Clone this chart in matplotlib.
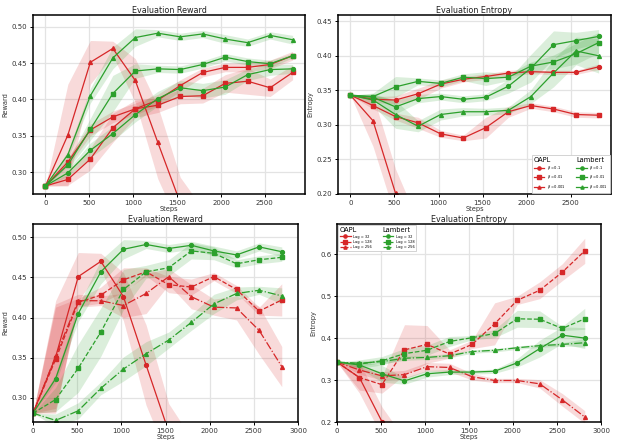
import matplotlib
matplotlib.use('Agg')
import matplotlib.pyplot as plt
import numpy as np
from matplotlib.lines import Line2D

steps = [0, 256, 512, 768, 1024, 1280, 1536, 1792, 2048, 2304, 2560, 2816]

# --- top left: reward vs beta
rew_oapl_b01 = [0.281, 0.314, 0.358, 0.376, 0.387, 0.399, 0.419, 0.437, 0.444, 0.444, 0.448, 0.460]
rew_oapl_b01_sd = [0, 0.006, 0.008, 0.008, 0.008, 0.008, 0.008, 0.006, 0.006, 0.006, 0.006, 0.006]
rew_oapl_b001 = [0.281, 0.290, 0.318, 0.361, 0.387, 0.392, 0.404, 0.405, 0.422, 0.425, 0.416, 0.437]
rew_oapl_b001_sd = [0, 0.008, 0.015, 0.02, 0.012, 0.01, 0.01, 0.01, 0.012, 0.018, 0.012, 0.01]
rew_oapl_b0001 = [0.281, 0.351, 0.451, 0.470, 0.426, 0.341, 0.258, 0.22, 0.20, 0.20, 0.20, 0.20]
rew_oapl_b0001_sd = [0, 0.07, 0.03, 0.01, 0.03, 0.05, 0.035, 0.03, 0.03, 0.03, 0.03, 0.03]
rew_lam_b01 = [0.281, 0.299, 0.330, 0.353, 0.379, 0.401, 0.416, 0.412, 0.417, 0.434, 0.441, 0.442]
rew_lam_b01_sd = [0, 0.005, 0.01, 0.01, 0.01, 0.01, 0.01, 0.01, 0.01, 0.008, 0.008, 0.006]
rew_lam_b001 = [0.281, 0.310, 0.359, 0.408, 0.439, 0.442, 0.441, 0.448, 0.458, 0.452, 0.449, 0.460]
rew_lam_b001_sd = [0, 0.006, 0.015, 0.025, 0.01, 0.005, 0.005, 0.005, 0.005, 0.005, 0.005, 0.003]
rew_lam_b0001 = [0.281, 0.324, 0.405, 0.457, 0.485, 0.491, 0.486, 0.490, 0.483, 0.478, 0.488, 0.482]
rew_lam_b0001_sd = [0, 0.005, 0.01, 0.015, 0.012, 0.005, 0.005, 0.005, 0.006, 0.005, 0.005, 0.006]

# --- top right: entropy vs beta
ent_oapl_b01 = [0.343, 0.337, 0.336, 0.345, 0.359, 0.366, 0.370, 0.375, 0.377, 0.376, 0.376, 0.384]
ent_oapl_b01_sd = [0, 0.004, 0.006, 0.008, 0.006, 0.004, 0.004, 0.004, 0.003, 0.003, 0.003, 0.004]
ent_oapl_b001 = [0.343, 0.328, 0.312, 0.303, 0.287, 0.281, 0.296, 0.319, 0.328, 0.323, 0.315, 0.314]
ent_oapl_b001_sd = [0, 0.005, 0.005, 0.008, 0.005, 0.004, 0.015, 0.008, 0.004, 0.004, 0.004, 0.004]
ent_oapl_b0001 = [0.343, 0.306, 0.201, 0.12, 0.08, 0.06, 0.05, 0.05, 0.05, 0.05, 0.05, 0.05]
ent_oapl_b0001_sd = [0, 0.037, 0.035, 0.04, 0.03, 0.03, 0.03, 0.03, 0.03, 0.03, 0.03, 0.03]
ent_lam_b01 = [0.343, 0.340, 0.326, 0.338, 0.341, 0.337, 0.340, 0.356, 0.382, 0.416, 0.422, 0.428]
ent_lam_b01_sd = [0, 0.005, 0.01, 0.006, 0.005, 0.005, 0.005, 0.01, 0.02, 0.02, 0.012, 0.01]
ent_lam_b001 = [0.343, 0.341, 0.355, 0.363, 0.360, 0.369, 0.367, 0.369, 0.385, 0.391, 0.403, 0.419]
ent_lam_b001_sd = [0, 0.005, 0.015, 0.005, 0.005, 0.005, 0.01, 0.005, 0.006, 0.01, 0.015, 0.015]
ent_lam_b0001 = [0.343, 0.336, 0.315, 0.298, 0.315, 0.319, 0.319, 0.321, 0.341, 0.375, 0.407, 0.400]
ent_lam_b0001_sd = [0, 0.008, 0.02, 0.008, 0.008, 0.006, 0.005, 0.005, 0.01, 0.02, 0.02, 0.025]

# --- bottom left: reward vs lag (lag 32 = beta 0.001 run)
rew_oapl_lag128 = [0.281, 0.348, 0.419, 0.428, 0.447, 0.457, 0.441, 0.438, 0.451, 0.435, 0.408, 0.422]
rew_oapl_lag128_sd = [0, 0.065, 0.005, 0.01, 0.015, 0.005, 0.01, 0.01, 0.005, 0.005, 0.005, 0.02]
rew_oapl_lag256 = [0.281, 0.352, 0.421, 0.421, 0.415, 0.430, 0.451, 0.426, 0.413, 0.412, 0.384, 0.339]
rew_oapl_lag256_sd = [0, 0.065, 0.008, 0.006, 0.015, 0.025, 0.01, 0.015, 0.01, 0.015, 0.03, 0.025]
rew_lam_lag128 = [0.281, 0.298, 0.337, 0.382, 0.435, 0.457, 0.462, 0.483, 0.480, 0.467, 0.472, 0.475]
rew_lam_lag128_sd = [0, 0.015, 0.03, 0.03, 0.025, 0.008, 0.01, 0.01, 0.008, 0.005, 0.005, 0.005]
rew_lam_lag256 = [0.281, 0.272, 0.284, 0.312, 0.336, 0.355, 0.372, 0.394, 0.417, 0.430, 0.434, 0.427]
rew_lam_lag256_sd = [0, 0.008, 0.01, 0.008, 0.015, 0.015, 0.01, 0.01, 0.012, 0.008, 0.005, 0.01]

# --- bottom right: entropy vs lag
ent_oapl_lag128 = [0.343, 0.306, 0.289, 0.372, 0.385, 0.362, 0.385, 0.434, 0.490, 0.514, 0.557, 0.608]
ent_oapl_lag128_sd = [0, 0.03, 0.02, 0.06, 0.045, 0.01, 0.01, 0.05, 0.01, 0.02, 0.02, 0.03]
ent_oapl_lag256 = [0.343, 0.324, 0.310, 0.313, 0.332, 0.330, 0.308, 0.299, 0.299, 0.291, 0.253, 0.212]
ent_oapl_lag256_sd = [0, 0.01, 0.01, 0.01, 0.01, 0.01, 0.008, 0.005, 0.005, 0.01, 0.015, 0.015]
ent_lam_lag128 = [0.343, 0.338, 0.346, 0.363, 0.371, 0.392, 0.401, 0.411, 0.446, 0.445, 0.423, 0.446]
ent_lam_lag128_sd = [0, 0.01, 0.01, 0.012, 0.012, 0.012, 0.005, 0.01, 0.02, 0.02, 0.005, 0.025]
ent_lam_lag256 = [0.343, 0.340, 0.344, 0.352, 0.354, 0.358, 0.368, 0.371, 0.377, 0.382, 0.385, 0.389]
ent_lam_lag256_sd = [0, 0.005, 0.005, 0.005, 0.005, 0.005, 0.004, 0.004, 0.004, 0.004, 0.004, 0.01]

beta_labels = [r'$\beta=0.1$', r'$\beta=0.01$', r'$\beta=0.001$']
lag_labels = ['Lag = 32', 'Lag = 128', 'Lag = 256']

RED = '#d62728'
GREEN = '#2ca02c'

x = np.array(steps)


def curve(ax, y, sd, color, marker, ls='-'):
    y = np.array(y)
    sd = np.array(sd)
    ax.fill_between(x, y - sd, y + sd, color=color, alpha=0.17, lw=0)
    ax.plot(x, y, color=color, marker=marker, ls=ls, lw=0.9, ms=2.8)


def style(ax, title, ylabel):
    ax.set_title(title, fontsize=5.8, pad=1.5, color='#222222')
    ax.set_xlabel('Steps', fontsize=4.8, labelpad=0.5, color='#333333')
    ax.set_ylabel(ylabel, fontsize=4.8, labelpad=2.5, color='#333333')
    ax.tick_params(labelsize=5, length=2.5, width=0.7, pad=1.5, labelcolor='#333333')
    ax.grid(True, color='#e3e3e3', lw=0.9)
    ax.set_axisbelow(True)
    for s in ax.spines.values():
        s.set_linewidth(1.1)
        s.set_color('black')


def two_col_legend(ax, labels, ls_list, loc, bbox):
    blank = Line2D([], [], alpha=0)
    h = [blank]
    for (m, ls) in zip(['o', 's', '^'], ls_list):
        h.append(Line2D([], [], color=RED, marker=m, ls=ls, lw=0.9, ms=2.3))
    h.append(blank)
    for (m, ls) in zip(['o', 's', '^'], ls_list):
        h.append(Line2D([], [], color=GREEN, marker=m, ls=ls, lw=0.9, ms=2.3))
    lab = ['OAPL'] + labels + ['Lambert'] + labels
    leg = ax.legend(h, lab, ncol=2, loc=loc, bbox_to_anchor=bbox, fontsize=2.6,
                    handlelength=3.0, handletextpad=0.6, columnspacing=3.0,
                    labelspacing=0.4, borderpad=0.45, borderaxespad=0.4,
                    fancybox=False, framealpha=1, edgecolor='#cccccc')
    leg.get_frame().set_linewidth(0.6)
    texts = leg.get_texts()
    texts[0].set_fontsize(4.8)
    texts[4].set_fontsize(4.8)
    for col in leg._legend_handle_box.get_children():
        first = col.get_children()[0]
        first.get_children()[0].width = 0
        first.sep = 0
    return leg


fig = plt.figure(figsize=(6.17, 4.48), dpi=100)

# top left
ax1 = fig.add_axes([0.0535, 0.567, 0.4408, 0.3995])
curve(ax1, rew_oapl_b01, rew_oapl_b01_sd, RED, 's')
curve(ax1, rew_oapl_b001, rew_oapl_b001_sd, RED, 's')
curve(ax1, rew_oapl_b0001, rew_oapl_b0001_sd, RED, '^')
curve(ax1, rew_lam_b01, rew_lam_b01_sd, GREEN, 'o')
curve(ax1, rew_lam_b001, rew_lam_b001_sd, GREEN, 's')
curve(ax1, rew_lam_b0001, rew_lam_b0001_sd, GREEN, '^')
ax1.set_xlim(-141, 2957)
ax1.set_ylim(0.27, 0.516)
ax1.set_yticks([0.30, 0.35, 0.40, 0.45, 0.50])
style(ax1, 'Evaluation Reward', 'Reward')

# top right
ax2 = fig.add_axes([0.5478, 0.567, 0.4425, 0.3995])
curve(ax2, ent_oapl_b01, ent_oapl_b01_sd, RED, 'o')
curve(ax2, ent_oapl_b001, ent_oapl_b001_sd, RED, 's')
curve(ax2, ent_oapl_b0001, ent_oapl_b0001_sd, RED, '^')
curve(ax2, ent_lam_b01, ent_lam_b01_sd, GREEN, 'o')
curve(ax2, ent_lam_b001, ent_lam_b001_sd, GREEN, 's')
curve(ax2, ent_lam_b0001, ent_lam_b0001_sd, GREEN, '^')
ax2.set_xlim(-141, 2957)
ax2.set_ylim(0.2, 0.459)
ax2.set_yticks([0.20, 0.25, 0.30, 0.35, 0.40, 0.45])
style(ax2, 'Evaluation Entropy', 'Entropy')
two_col_legend(ax2, beta_labels, ['-', '-', '-'], 'lower right', (1.0, 0.0))

# bottom left
ax3 = fig.add_axes([0.0535, 0.058, 0.4295, 0.442])
curve(ax3, rew_oapl_b0001, rew_oapl_b0001_sd, RED, 'o', '-')
curve(ax3, rew_oapl_lag128, rew_oapl_lag128_sd, RED, 's', '--')
curve(ax3, rew_oapl_lag256, rew_oapl_lag256_sd, RED, '^', '-.')
curve(ax3, rew_lam_b0001, rew_lam_b0001_sd, GREEN, 'o', '-')
curve(ax3, rew_lam_lag128, rew_lam_lag128_sd, GREEN, 's', '--')
curve(ax3, rew_lam_lag256, rew_lam_lag256_sd, GREEN, '^', '-.')
ax3.set_xlim(0, 3000)
ax3.set_ylim(0.27, 0.5165)
ax3.set_yticks([0.30, 0.35, 0.40, 0.45, 0.50])
style(ax3, 'Evaluation Reward', 'Reward')

# bottom right
ax4 = fig.add_axes([0.546, 0.058, 0.428, 0.442])
curve(ax4, ent_oapl_b0001, ent_oapl_b0001_sd, RED, 'o', '-')
curve(ax4, ent_oapl_lag128, ent_oapl_lag128_sd, RED, 's', '--')
curve(ax4, ent_oapl_lag256, ent_oapl_lag256_sd, RED, '^', '-.')
curve(ax4, ent_lam_b0001, ent_lam_b0001_sd, GREEN, 'o', '-')
curve(ax4, ent_lam_lag128, ent_lam_lag128_sd, GREEN, 's', '--')
curve(ax4, ent_lam_lag256, ent_lam_lag256_sd, GREEN, '^', '-.')
ax4.set_xlim(0, 3000)
ax4.set_ylim(0.2, 0.672)
ax4.set_yticks([0.2, 0.3, 0.4, 0.5, 0.6])
style(ax4, 'Evaluation Entropy', 'Entropy')
two_col_legend(ax4, lag_labels, ['-', '--', '-.'], 'upper left', (0.0, 1.0))

fig.savefig('out.png', dpi=100)
